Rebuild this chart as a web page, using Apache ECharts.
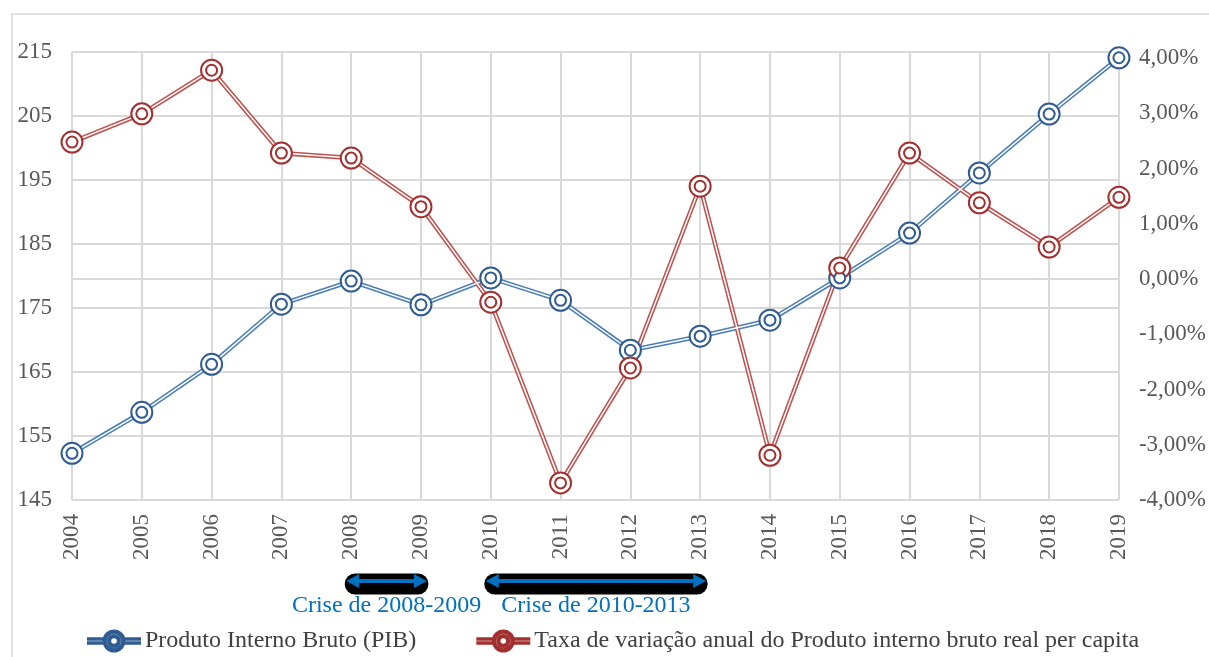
<!DOCTYPE html>
<html>
<head>
<meta charset="utf-8">
<script src="https://cdn.jsdelivr.net/npm/echarts@6/dist/echarts.min.js"></script>
<style>
  html, body { margin: 0; padding: 0; background: #fff; }
  #chart { width: 1209px; height: 657px; }
</style>
</head>
<body>
<div id="chart"></div>
<script>
// dados
var anos = ["2004", "2005", "2006", "2007", "2008", "2009", "2010", "2011",
  "2012", "2013", "2014", "2015", "2016", "2017", "2018", "2019"];
var pib = [152.3, 158.7, 166.2, 175.6, 179.2, 175.5, 179.7, 176.2,
  168.4, 170.6, 173.1, 179.7, 186.7, 196.1, 205.3, 214.1];
var taxa = [2.48, 2.99, 3.78, 2.28, 2.19, 1.31, -0.42, -3.69,
  -1.61, 1.68, -3.19, 0.20, 2.28, 1.38, 0.58, 1.48];
var crises = [
  { de: "2008", ate: "2009", texto: "Crise de 2008-2009" },
  { de: "2010", ate: "2013", texto: "Crise de 2010-2013" }
];

var nomePib = "Produto Interno Bruto (PIB)";
var nomeTaxa = "Taxa de variação anual do Produto interno bruto real per capita";
var fonte = "Liberation Serif";

// icone da legenda: linha dupla + circulo duplo
function anel(cx, cy, r, horario) {
  var s = horario ? 1 : 0;
  return "M" + (cx - r) + " " + cy + "A" + r + " " + r + " 0 1 " + s + " " + (cx + r) + " " + cy +
    "A" + r + " " + r + " 0 1 " + s + " " + (cx - r) + " " + cy + "Z";
}
var icone = "path://" +
  "M0 8.3H15.6V9.8H0Z M0 12.2H15.6V13.7H0Z M36.4 8.3H52V9.8H36.4Z M36.4 12.2H52V13.7H36.4Z " +
  anel(26, 11, 10.5, true) + anel(26, 11, 8.2, false) +
  anel(26, 11, 6, true) + anel(26, 11, 3.8, false);

function serieDupla(nome, dados, eixo, corLinha, corMarca) {
  return [
    { type: "line", name: nome + "_l", data: dados, yAxisIndex: eixo, symbol: "none", silent: true,
      lineStyle: { color: corLinha, width: 4.6 }, z: 2 },
    { type: "line", name: nome + "_b", data: dados, yAxisIndex: eixo, symbol: "none", silent: true,
      lineStyle: { color: "#fff", width: 1.5 }, z: 3 },
    { type: "line", name: nome, data: dados, yAxisIndex: eixo, symbol: "emptyCircle", symbolSize: 21,
      lineStyle: { width: 0 }, itemStyle: { color: corMarca, borderColor: corMarca, borderWidth: 2.8 }, z: 4 },
    { type: "line", name: nome + "_c", data: dados, yAxisIndex: eixo, symbol: "emptyCircle", symbolSize: 11,
      lineStyle: { width: 0 }, itemStyle: { color: corMarca, borderColor: corMarca, borderWidth: 2.2 }, z: 5 }
  ];
}

var chart = echarts.init(document.getElementById("chart"));
var option = {
  animation: false,
  backgroundColor: "#fff",
  textStyle: { fontFamily: fonte },
  grid: { left: 72, right: 90, top: 52, bottom: 157 },
  legend: {
    data: [{ name: nomePib, icon: icone }, { name: nomeTaxa, icon: icone }],
    left: 82, top: 624, itemWidth: 52, itemHeight: 22, itemGap: 60,
    textStyle: { fontFamily: fonte, fontSize: 24, color: "#404040" }
  },
  xAxis: {
    type: "category", data: anos, boundaryGap: false,
    axisLine: { lineStyle: { color: "#d9d9d9", width: 2 } },
    axisTick: { show: false },
    splitLine: { show: true, lineStyle: { color: "#d9d9d9", width: 2 } },
    axisLabel: { rotate: 90, margin: 14, fontFamily: fonte, fontSize: 23, color: "#595959" }
  },
  yAxis: [
    {
      type: "value", min: 145, max: 215, interval: 10,
      axisLine: { show: false }, axisTick: { show: false },
      splitLine: { lineStyle: { color: "#d9d9d9", width: 2 } },
      axisLabel: { margin: 20, fontFamily: fonte, fontSize: 23, color: "#595959" }
    },
    {
      type: "value", min: -4, max: 4.11, interval: 1,
      axisLine: { show: false }, axisTick: { show: false }, splitLine: { show: false },
      axisLabel: {
        margin: 20, showMaxLabel: false, fontFamily: fonte, fontSize: 23, color: "#595959",
        formatter: function (v) { return v.toFixed(2).replace(".", ",") + "%"; }
      }
    }
  ],
  series: serieDupla(nomePib, pib, 0, "#4a7ebb", "#2f5c92")
    .concat(serieDupla(nomeTaxa, taxa, 1, "#c0504d", "#a3302f"))
};
chart.setOption(option);

// setas das crises abaixo do eixo
var graficos = [{
  type: "rect", shape: { x: 12, y: 14, width: 1220, height: 700 }, silent: true,
  style: { fill: "none", stroke: "#d9d9d9", lineWidth: 1.5 }, z: -1
}];
var ySeta = 581;
crises.forEach(function (c) {
  var x1 = chart.convertToPixel({ xAxisIndex: 0 }, c.de) - 5;
  var x2 = chart.convertToPixel({ xAxisIndex: 0 }, c.ate) + 6;
  graficos.push({
    type: "line", shape: { x1: x1 + 9, y1: ySeta + 3, x2: x2 - 9, y2: ySeta + 3 },
    style: { stroke: "#000", lineWidth: 21, lineCap: "round" }, z: 10
  });
  graficos.push({
    type: "line", shape: { x1: x1 + 8, y1: ySeta, x2: x2 - 8, y2: ySeta },
    style: { stroke: "#0070c0", lineWidth: 4 }, z: 11
  });
  graficos.push({
    type: "polygon", shape: { points: [[x1, ySeta], [x1 + 13, ySeta - 7], [x1 + 13, ySeta + 7]] },
    style: { fill: "#0070c0" }, z: 11
  });
  graficos.push({
    type: "polygon", shape: { points: [[x2, ySeta], [x2 - 13, ySeta - 7], [x2 - 13, ySeta + 7]] },
    style: { fill: "#0070c0" }, z: 11
  });
  graficos.push({
    type: "text", x: (x1 + x2) / 2, y: ySeta + 25, z: 12,
    style: { text: c.texto, fill: "#0070c0", font: "24px " + fonte, align: "center", verticalAlign: "middle" }
  });
});
chart.setOption({ graphic: graficos });
</script>
</body>
</html>
